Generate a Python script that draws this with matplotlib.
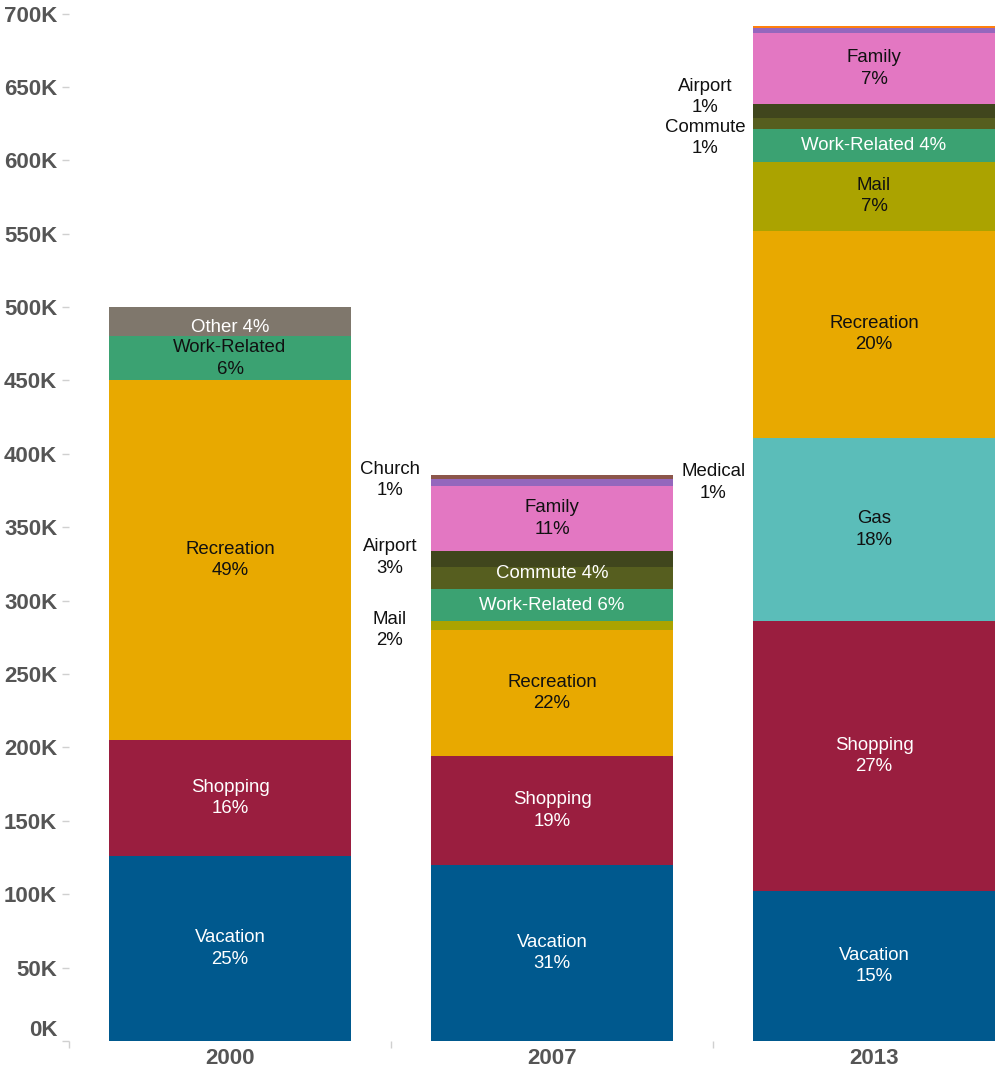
import numpy as np
import matplotlib
matplotlib.use('Agg')
import matplotlib.pyplot as plt

plt.rcParams['font.family'] = ['Liberation Sans', 'DejaVu Sans']

# trips by purpose, thousands
years = ['2000', '2007', '2013']
categories = ['Vacation', 'Shopping', 'Gas', 'Recreation', 'Mail', 'Work-Related',
              'Commute', 'Airport', 'Family', 'Church', 'Medical', 'Misc', 'Other']
values_2000 = [126, 79, 0, 245, 0, 30, 0, 0, 0, 0, 0, 0, 20]
values_2007 = [120, 74, 0, 86, 6, 22, 15, 11, 44, 5, 2.5, 0, 0]
values_2013 = [102, 184, 125, 141, 47, 22, 7.5, 10, 48, 3.6, 0, 1.6, 0]
# percent labels as shown (None = no label)
pct_2000 = [25, 16, None, 49, None, 6, None, None, None, None, None, None, 4]
pct_2007 = [31, 19, None, 22, 2, 6, 4, 3, 11, 1, 1, None, None]
pct_2013 = [15, 27, 18, 20, 7, 4, 1, 1, 7, None, None, None, None]

colors = {
    'Vacation': '#00598e', 'Shopping': '#9a1e3f', 'Gas': '#5bbdb9',
    'Recreation': '#e8a900', 'Mail': '#aba300', 'Work-Related': '#3ba272',
    'Commute': '#565e1f', 'Airport': '#40461d', 'Family': '#e377c2',
    'Church': '#9467bd', 'Medical': '#8c564b', 'Misc': '#ff7f0e', 'Other': '#7f776c',
}
light_bg = {'Gas', 'Recreation', 'Mail', 'Family'}
black_override = {('2000', 'Work-Related')}
# outside labels: (dx, dy) in points from bar edge at segment middle
outside_offsets = {
    ('2007', 'Church'): (-29.5, 2),
    ('2007', 'Airport'): (-29.5, 1),
    ('2007', 'Mail'): (-29.5, -3),
    ('2007', 'Medical'): (29, -4),
    ('2013', 'Airport'): (-34.5, 10),
    ('2013', 'Commute'): (-34.5, -10),
}
# small vertical nudges (points) for some inside labels
inside_nudge = {('2000', 'Other'): -4, ('2007', 'Commute'): 3}

all_values = [values_2000, values_2007, values_2013]
all_pcts = [pct_2000, pct_2007, pct_2013]

fig = plt.figure(figsize=(9.98, 10.72), dpi=100)
ax = fig.add_axes((69 / 998, 31 / 1072, 929 / 998, 1027.5 / 1072))

bar_w = 0.752
lab_kw = dict(fontsize=13.4, linespacing=1.32, multialignment='center',
              ha='center', va='center')
for i, (yr, vals, pcts) in enumerate(zip(years, all_values, all_pcts)):
    bottom = 0
    for cat, v, p in zip(categories, vals, pcts):
        if v == 0:
            continue
        ax.bar(i, v, bottom=bottom, width=bar_w, color=colors[cat], linewidth=0)
        mid = bottom + v / 2
        bottom += v
        if p is None:
            continue
        if v >= 12:
            txt = f'{cat}\n{p}%' if v >= 25 else f'{cat} {p}%'
            col = '#111111' if (cat in light_bg or (yr, cat) in black_override) else 'white'
            ax.annotate(txt, xy=(i, mid), xytext=(0, inside_nudge.get((yr, cat), 0)),
                        textcoords='offset points', color=col, **lab_kw)
        else:
            dx, dy = outside_offsets.get((yr, cat), (-29.5, 0))
            edge = i - bar_w / 2 if dx < 0 else i + bar_w / 2
            ax.annotate(f'{cat}\n{p}%', xy=(edge, mid), xytext=(dx, dy),
                        textcoords='offset points', color='#111111', **lab_kw)

ax.set_xlim(-0.5, -0.5 + 929 / 322)
ax.set_ylim(0, 700)
for s in ax.spines.values():
    s.set_visible(False)

yt = np.arange(0, 701, 50)
ax.set_yticks(yt)
ax.set_yticklabels([f'{t}K' for t in yt], fontweight='bold')
ax.tick_params(axis='y', length=5, width=1, color='#d0d0d0', labelsize=16,
               labelcolor='#555555', pad=3.5)
ax.get_yticklabels()[0].set_verticalalignment('bottom')

ax.set_xticks(range(len(years)))
ax.set_xticklabels(years, fontweight='bold')
ax.set_xticks([-0.5, 0.5, 1.5], minor=True)
ax.tick_params(axis='x', which='major', length=0, labelsize=16, labelcolor='#555555', pad=5)
ax.tick_params(axis='x', which='minor', length=5, width=1, color='#d0d0d0')

fig.savefig('out.png', dpi=100)
